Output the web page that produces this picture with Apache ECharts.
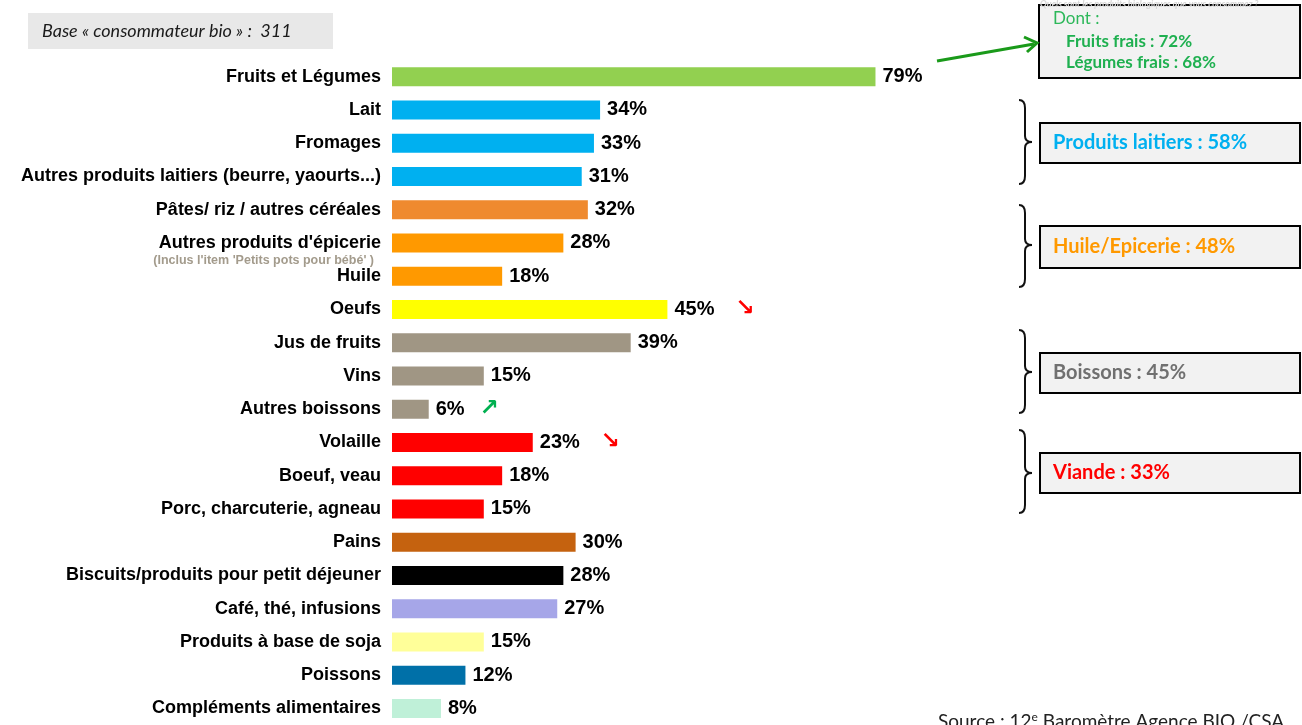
<!DOCTYPE html>
<html>
<head>
<meta charset="utf-8">
<script src="https://cdn.jsdelivr.net/npm/echarts@6/dist/echarts.min.js"></script>
<style>
  html, body { margin: 0; padding: 0; background: #fff; }
  #container { width: 1302px; height: 725px; }
</style>
</head>
<body>
<div id="container"></div>
<script>
let categories = [
  "Fruits et Légumes", "Lait", "Fromages", "Autres produits laitiers (beurre, yaourts...)",
  "Pâtes/ riz / autres céréales", "Autres produits d'épicerie", "Huile", "Oeufs",
  "Jus de fruits", "Vins", "Autres boissons", "Volaille", "Boeuf, veau",
  "Porc, charcuterie, agneau", "Pains", "Biscuits/produits pour petit déjeuner",
  "Café, thé, infusions", "Produits à base de soja", "Poissons", "Compléments alimentaires"
];
let values = [79, 34, 33, 31, 32, 28, 18, 45, 39, 15, 6, 23, 18, 15, 30, 28, 27, 15, 12, 8];
let barColors = [
  "#92d050", "#00b0f0", "#00b0f0", "#00b0f0",
  "#ef8a2f", "#ff9900", "#ff9900", "#ffff00",
  "#a09684", "#a09684", "#a09684", "#ff0000", "#ff0000",
  "#ff0000", "#c5620f", "#000000",
  "#a6a6e8", "#ffff99", "#0070a8", "#bff0d8"
];
// évolution vs baromètre précédent
let trends = ["", "", "", "", "", "", "", "down", "", "", "up", "down", "", "", "", "", "", "", "", ""];

let groups = [
  { text: "Produits laitiers : 58%", color: "#00b0f0", top: 123, bottom: 163, bTop: 100, bBot: 184, tip: 142 },
  { text: "Huile/Epicerie : 48%", color: "#ff9900", top: 226, bottom: 268, bTop: 205, bBot: 287, tip: 245 },
  { text: "Boissons : 45%", color: "#707070", top: 353, bottom: 393, bTop: 330, bBot: 413, tip: 372 },
  { text: "Viande : 33%", color: "#ff0000", top: 453, bottom: 493, bTop: 430, bBot: 513, tip: 473 }
];

let dom = document.getElementById("container");
let myChart = echarts.init(dom, null, { renderer: "canvas" });

// accolade "}" en segments
function brace(g) {
  let x0 = 1019, x1 = 1025, xt = 1032, m = g.tip;
  let st = { stroke: "#111", lineWidth: 2, fill: null };
  return [
    { type: "bezierCurve", shape: { x1: x0, y1: g.bTop, cpx1: x1, cpy1: g.bTop, x2: x1, y2: g.bTop + 8 }, style: st },
    { type: "line", shape: { x1: x1, y1: g.bTop + 8, x2: x1, y2: m - 6 }, style: st },
    { type: "bezierCurve", shape: { x1: x1, y1: m - 6, cpx1: x1, cpy1: m, x2: xt, y2: m }, style: st },
    { type: "bezierCurve", shape: { x1: xt, y1: m, cpx1: x1, cpy1: m, x2: x1, y2: m + 6 }, style: st },
    { type: "line", shape: { x1: x1, y1: m + 6, x2: x1, y2: g.bBot - 8 }, style: st },
    { type: "bezierCurve", shape: { x1: x1, y1: g.bBot - 8, cpx1: x1, cpy1: g.bBot, x2: x0, y2: g.bBot }, style: st }
  ];
}

let graphics = [
  // base
  { type: "rect", shape: { x: 28, y: 13, width: 305, height: 36 }, style: { fill: "#e8e8e8" } },
  { type: "text", x: 42, y: 31, style: { text: "Base « consommateur bio » :  311", font: "italic 18px Lato", fill: "#1a1a1a", verticalAlign: "middle" } },
  // note épicerie
  { type: "text", x: 374, y: 261, style: { text: "(Inclus l'item 'Petits pots pour bébé' )", font: "bold 12.5px 'Liberation Sans'", fill: "#a39b8c", align: "right", verticalAlign: "middle" } },
  // encadré fruits
  { type: "rect", shape: { x: 1039, y: 5, width: 261, height: 73 }, style: { fill: "#f2f2f2", stroke: "#000", lineWidth: 2 } },
  { type: "text", x: 1040, y: 4, style: { text: "Quels sont les produits biologiques que vous consommez ?", font: "italic bold 9px Lato", fill: "#d8d8d8", verticalAlign: "middle" } },
  { type: "text", x: 1053, y: 19, style: { text: "Dont :", font: "17px Lato", fill: "#2db85a", verticalAlign: "middle" } },
  { type: "text", x: 1066, y: 42, style: { text: "Fruits frais : 72%", font: "bold 17px Lato", fill: "#1fb050", verticalAlign: "middle" } },
  { type: "text", x: 1066, y: 63, style: { text: "Légumes frais : 68%", font: "bold 17px Lato", fill: "#1fb050", verticalAlign: "middle" } },
  { type: "line", shape: { x1: 937, y1: 61, x2: 1034, y2: 44 }, style: { stroke: "#1a9a1a", lineWidth: 3 } },
  { type: "polyline", shape: { points: [[1024, 37], [1037, 43], [1027, 52]] }, style: { stroke: "#1a9a1a", lineWidth: 3, fill: null } },
  // source
  { type: "text", x: 938, y: 722, style: {
      text: "{t|Source : 12}{s|e}{t| Baromètre Agence BIO /CSA}",
      rich: { t: { font: "19px Lato", fill: "#222" }, s: { font: "12px Lato", fill: "#222", verticalAlign: "top", padding: [0, 0, 10, 0] } },
      verticalAlign: "middle" } }
];
groups.forEach(function (g) {
  brace(g).forEach(function (el) { graphics.push(el); });
  graphics.push({ type: "rect", shape: { x: 1040, y: g.top, width: 260, height: g.bottom - g.top }, style: { fill: "#f2f2f2", stroke: "#000", lineWidth: 2 } });
  graphics.push({ type: "text", x: 1053, y: (g.top + g.bottom) / 2, style: { text: g.text, font: "bold 20px Lato", fill: g.color, verticalAlign: "middle" } });
});

let option = {
  animation: false,
  backgroundColor: "#fff",
  grid: { left: 392, top: 60, width: 612, height: 667, containLabel: false },
  xAxis: {
    type: "value",
    min: 0,
    max: 100,
    show: false
  },
  yAxis: {
    type: "category",
    data: categories,
    inverse: true,
    axisLine: { show: false },
    axisTick: { show: false },
    splitLine: { show: false },
    axisLabel: {
      margin: 11,
      color: "#000",
      fontFamily: "Liberation Sans",
      fontWeight: "bold",
      fontSize: 18
    }
  },
  series: [
    {
      type: "bar",
      barWidth: 19,
      data: values.map(function (v, i) {
        return { value: v, itemStyle: { color: barColors[i] } };
      }),
      label: {
        show: true,
        position: "right",
        distance: 7,
        formatter: function (p) {
          let t = trends[p.dataIndex];
          let s = "{v|" + p.value + "%}";
          if (t === "down") s += "{dn|↘}";
          if (t === "up") s += "{up|↗}";
          return s;
        },
        rich: {
          v: { fontFamily: "Liberation Sans", fontWeight: "bold", fontSize: 20, color: "#000" },
          dn: { fontFamily: "DejaVu Sans", fontWeight: "bold", fontSize: 23, color: "#ff0000", padding: [0, 0, 0, 21] },
          up: { fontFamily: "DejaVu Sans", fontWeight: "bold", fontSize: 23, color: "#00b050", padding: [0, 0, 0, 15] }
        }
      }
    }
  ],
  graphic: graphics
};

if (option && typeof option === "object") {
  myChart.setOption(option);
}
window.addEventListener("resize", myChart.resize);
</script>
</body>
</html>
